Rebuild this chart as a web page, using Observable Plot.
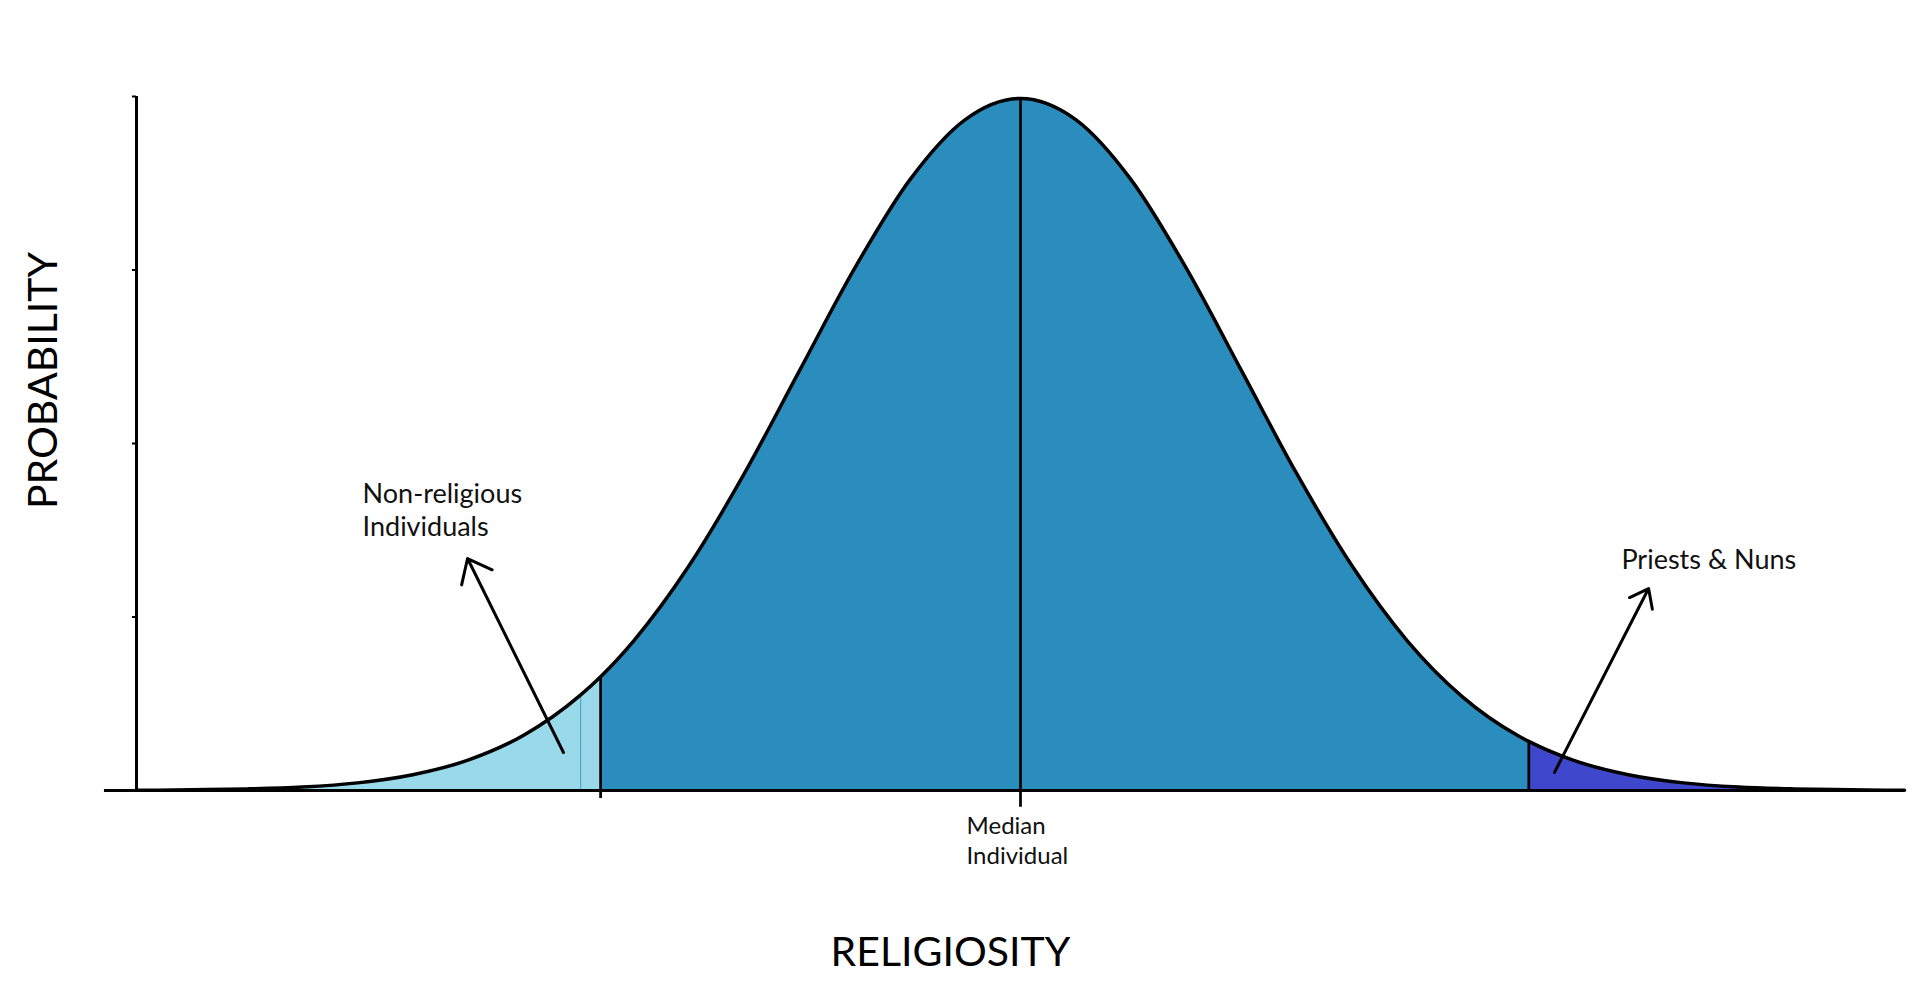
<!DOCTYPE html>
<html><head><meta charset="utf-8">
<script src="https://cdn.jsdelivr.net/npm/d3@7"></script>
<script src="https://cdn.jsdelivr.net/npm/@observablehq/plot@0.6"></script>
<style>html,body{margin:0;padding:0;background:#fff;} #chart svg{display:block;}</style>
</head><body><div id="chart"></div>
<script>
// Curve (religiosity in SD units, probability density)
const religiosity = [-4,-3.75,-3.5,-3.25,-3,-2.75,-2.5,-2.25,-1.99,-1.9,-1.75,-1.5,-1.25,-1,-0.75,-0.5,-0.25,0,0.25,0.5,0.75,1,1.25,1.5,1.75,2,2.25,2.3,2.5,2.75,3,3.25,3.5,3.75,4];
const probability = [0.0001,0.0004,0.0009,0.0020,0.0044,0.0091,0.0175,0.0317,0.0551,0.0656,0.0863,0.1295,0.1826,0.2420,0.3011,0.3521,0.3867,0.3989,0.3867,0.3521,0.3011,0.2420,0.1826,0.1295,0.0863,0.0540,0.0317,0.0283,0.0175,0.0091,0.0044,0.0020,0.0009,0.0004,0.0001];
const cutoffs = [-1.9, 2.3];
const medianValue = [0];
const innerMark = [-1.99];
const segments = ["Non-religious", "Religious", "Priests & Nuns"];
const segmentColors = ["#99d9ea", "#2b8cbe", "#3f48cc"];
const yTicks = [0.1, 0.2, 0.3, 0.4];
const baselineExtent = [-4.145, 4];
const yAxisAt = [-4];

// annotations
const labelText = ["Non-religious\nIndividuals", "Priests & Nuns"];
const labelX = [-2.977, 2.719];
const labelY = [0.1468, 0.1274];
const medianText = ["Median\nIndividual"];
const medianX = [-0.244];
const medianY = [-0.0421];
const arrowX1 = [-2.068, 2.416];
const arrowY1 = [0.0219, 0.0104];
const arrowX2 = [-2.502, 2.842];
const arrowY2 = [0.1337, 0.1164];
const xTitle = ["RELIGIOSITY"], xTitleX = [-0.317], xTitleY = [-0.1009];
const yTitle = ["PROBABILITY"], yTitleX = [-4.36], yTitleY = [0.2363];

const valueAt = (x) => probability[religiosity.indexOf(x)];
const rows = [];
religiosity.forEach((x, i) => {
  const y = probability[i];
  const s = x < cutoffs[0] ? 0 : x < cutoffs[1] ? 1 : 2;
  if (x === cutoffs[0]) rows.push({x, y, seg: segments[0]});
  if (x === cutoffs[1]) rows.push({x, y, seg: segments[1]});
  rows.push({x, y, seg: segments[s]});
});
const curvePts = religiosity.map((x, i) => ({x, y: probability[i]}));
const font = "Lato, 'Open Sans', sans-serif";

const chart = Plot.plot({
  width: 1920, height: 997,
  marginLeft: 136, marginRight: 16, marginTop: 96, marginBottom: 207,
  style: {fontFamily: font, background: "#fff"},
  x: {domain: [-4, 4], axis: null},
  y: {domain: [0, 0.4], axis: null},
  color: {domain: segments, range: segmentColors},
  marks: [
    Plot.areaY(rows, {x: "x", y1: 0, y2: "y", z: "seg", fill: "seg", curve: "monotone-x"}),
    Plot.ruleX(innerMark, {y1: 0, y2: innerMark.map(valueAt), stroke: "#4a9ccb", strokeWidth: 1}),
    Plot.ruleY([0], {x1: baselineExtent[0], x2: baselineExtent[1], stroke: "#000", strokeWidth: 3}),
    Plot.ruleX(yAxisAt, {y1: 0, y2: 0.4, stroke: "#000", strokeWidth: 3}),
    Plot.axisY({ticks: yTicks, tickSize: 4, tickFormat: () => "", label: null, strokeWidth: 2, stroke: "#000"}),
    Plot.ruleX([cutoffs[0]], {y1: -0.0046, y2: valueAt(cutoffs[0]), stroke: "#000", strokeWidth: 2.75}),
    Plot.ruleX([cutoffs[1]], {y1: 0, y2: valueAt(cutoffs[1]), stroke: "#000", strokeWidth: 2.75}),
    Plot.ruleX(medianValue, {y1: -0.0096, y2: valueAt(0), stroke: "#000", strokeWidth: 2.75}),
    Plot.line(curvePts, {x: "x", y: "y", curve: "monotone-x", stroke: "#000", strokeWidth: 3.5}),
    Plot.arrow([0], {x1: arrowX1[0], y1: arrowY1[0], x2: arrowX2[0], y2: arrowY2[0], stroke: "#000", strokeWidth: 3, headLength: 13.5, headAngle: 78}),
    Plot.arrow([1], {x1: arrowX1[1], y1: arrowY1[1], x2: arrowX2[1], y2: arrowY2[1], stroke: "#000", strokeWidth: 3, headLength: 10.5, headAngle: 75}),
    Plot.text(labelText, {x: (d, i) => labelX[i], y: (d, i) => labelY[i], text: d => d, textAnchor: "start", lineAnchor: "bottom", lineHeight: 1.22, fontSize: 27, fill: "#111"}),
    Plot.text(medianText, {x: (d, i) => medianX[i], y: (d, i) => medianY[i], text: d => d, textAnchor: "start", lineAnchor: "bottom", lineHeight: 1.22, fontSize: 24, fill: "#111"}),
    Plot.text(xTitle, {x: (d, i) => xTitleX[i], y: (d, i) => xTitleY[i], text: d => d, textAnchor: "middle", lineAnchor: "bottom", fontSize: 41, fill: "#000"}),
    Plot.text(yTitle, {x: (d, i) => yTitleX[i], y: (d, i) => yTitleY[i], text: d => d, textAnchor: "middle", lineAnchor: "bottom", rotate: -90, fontSize: 41, fill: "#000"})
  ]
});
document.getElementById("chart").appendChild(chart);
</script>
</body></html>
